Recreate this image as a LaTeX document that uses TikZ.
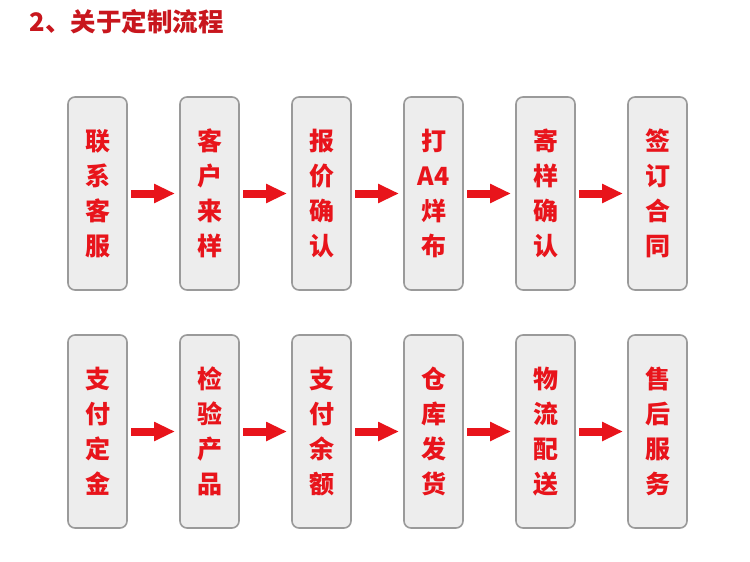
\documentclass[tikz,border=0pt]{standalone}
\usepackage{fontspec}
\newfontfamily\cjk{Noto Sans CJK SC}
\usepackage{xcolor}
\usetikzlibrary{positioning, arrows.meta}
\definecolor{flowred}{HTML}{E8141B}
\definecolor{titlered}{HTML}{C8161D}
\definecolor{boxgray}{HTML}{EDEDED}
\definecolor{edgegray}{HTML}{9A9A9A}

\begin{document}
\begin{tikzpicture}[
    x=1pt, y=-1pt,
    box/.style={rectangle, draw=edgegray, fill=boxgray, line width=1.6pt, rounded corners=7pt,
                minimum width=59pt, minimum height=193pt, inner sep=0pt, outer sep=0pt,
                align=center, text=flowred, font=\cjk\bfseries\fontsize{25}{35}\selectfont,
                execute at begin node={\rule{0pt}{29pt}}},
    flow/.style={-{Triangle[length=21pt, width=18pt]}, line width=8pt, draw=flowred,
                 shorten <=4pt, shorten >=5pt}
]
\fill[white] (0,0) rectangle (750,562);
\useasboundingbox (0,0) rectangle (750,562);

\node[anchor=west, text=titlered, font=\cjk\bfseries\fontsize{25.5}{30}\selectfont] (title) at (26,22) {2、关于定制流程};

% first row
\node[box] (S1) at (97.5,193.5) {联\\系\\客\\服};
\node[box, right=53pt of S1] (S2) {客\\户\\来\\样};
\node[box, right=53pt of S2] (S3) {报\\价\\确\\认};
\node[box, right=53pt of S3] (S4) {打\\A4\\烊\\布};
\node[box, right=53pt of S4] (S5) {寄\\样\\确\\认};
\node[box, right=53pt of S5] (S6) {签\\订\\合\\同};

% second row
\node[box] (T1) at (97.5,431.5) {支\\付\\定\\金};
\node[box, right=53pt of T1] (T2) {检\\验\\产\\品};
\node[box, right=53pt of T2] (T3) {支\\付\\余\\额};
\node[box, right=53pt of T3] (T4) {仓\\库\\发\\货};
\node[box, right=53pt of T4] (T5) {物\\流\\配\\送};
\node[box, right=53pt of T5] (T6) {售\\后\\服\\务};

\draw[flow] (S1) -- (S2);
\draw[flow] (S2) -- (S3);
\draw[flow] (S3) -- (S4);
\draw[flow] (S4) -- (S5);
\draw[flow] (S5) -- (S6);

\draw[flow] (T1) -- (T2);
\draw[flow] (T2) -- (T3);
\draw[flow] (T3) -- (T4);
\draw[flow] (T4) -- (T5);
\draw[flow] (T5) -- (T6);
\end{tikzpicture}
\end{document}
